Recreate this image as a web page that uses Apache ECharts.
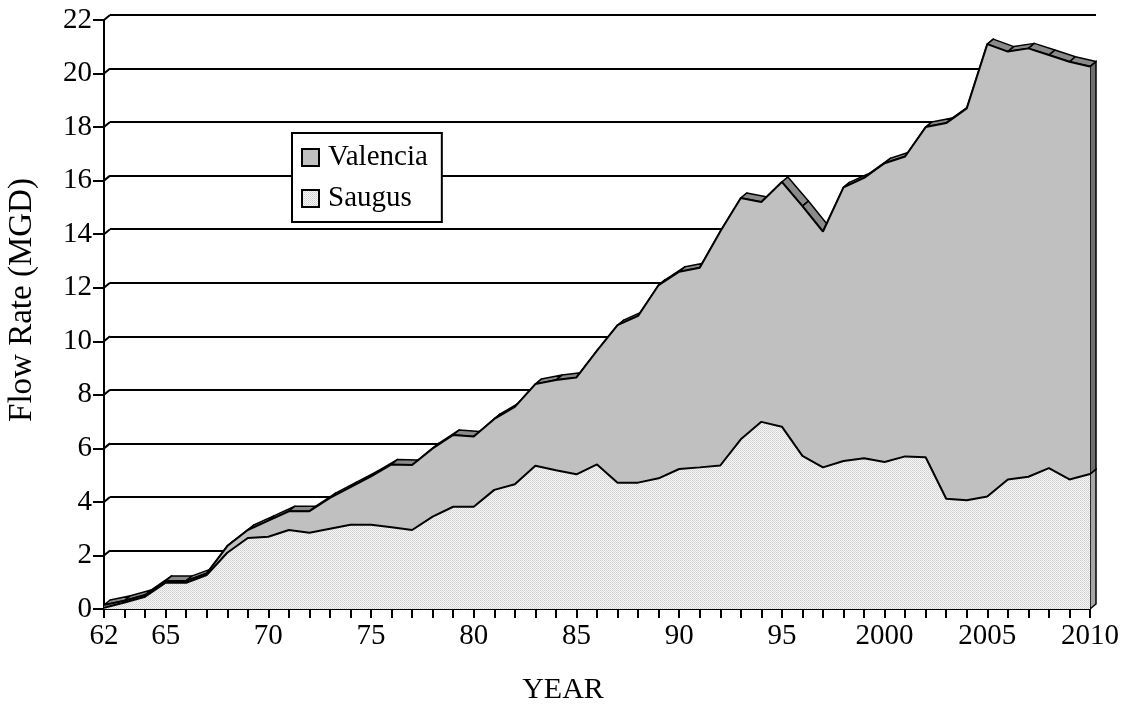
<!DOCTYPE html>
<html>
<head>
<meta charset="utf-8">
<title>Flow Rate</title>
<script src="https://cdn.jsdelivr.net/npm/echarts@6/dist/echarts.min.js"></script>
<style>
  html, body { margin: 0; padding: 0; background: #ffffff; }
  #chart { width: 1126px; height: 712px; }
</style>
</head>
<body>
<div id="chart"></div>
<script>
// Yearly flow, million gallons per day
const years = [1962,1963,1964,1965,1966,1967,1968,1969,1970,1971,1972,1973,1974,1975,1976,1977,1978,1979,1980,
  1981,1982,1983,1984,1985,1986,1987,1988,1989,1990,1991,1992,1993,1994,1995,1996,1997,1998,1999,2000,
  2001,2002,2003,2004,2005,2006,2007,2008,2009,2010];
const tickYears = [1962,1965,1970,1975,1980,1985,1990,1995,2000,2005,2010];
const tickTexts = ['62','65','70','75','80','85','90','95','2000','2005','2010'];
const yTicks = [0,2,4,6,8,10,12,14,16,18,20,22];

const saugus = [0.05,0.24,0.46,0.98,0.98,1.27,2.10,2.65,2.70,2.95,2.85,3.00,3.15,3.15,3.05,2.95,3.45,3.82,3.82,
  4.45,4.66,5.35,5.18,5.03,5.40,4.72,4.72,4.88,5.23,5.29,5.36,6.34,6.99,6.81,5.72,5.29,5.53,5.63,5.49,
  5.70,5.67,4.12,4.06,4.20,4.84,4.94,5.26,4.84,5.04];
const valencia = [0.10,0.07,0.06,0.07,0.07,0.06,0.25,0.30,0.60,0.70,0.80,1.15,1.40,1.80,2.35,2.43,2.55,2.68,2.62,
  2.65,2.89,3.05,3.37,3.62,4.25,5.88,6.23,7.22,7.37,7.46,8.74,9.01,8.21,9.14,9.33,8.81,10.22,10.47,11.16,
  11.20,12.33,14.03,14.64,16.90,15.98,16.00,15.43,15.60,15.22];

// stacked top of the two areas
const totals = saugus.map((s, i) => +(s + valencia[i]).toFixed(2));

// pseudo-3D depth of the plot box, in pixels
const DX = 6, DY = -5;
const FONT = 'Liberation Serif';

// dotted fill for the Saugus area
function dotPattern() {
  const c = document.createElement('canvas');
  c.width = 2; c.height = 2;
  const g = c.getContext('2d');
  g.fillStyle = '#f6f6f6'; g.fillRect(0, 0, 2, 2);
  g.fillStyle = '#cfcfcf'; g.fillRect(0, 0, 1, 1);
  g.fillStyle = '#dadada'; g.fillRect(1, 1, 1, 1);
  return { image: c, repetition: 'repeat' };
}
const saugusFill = dotPattern();
const valenciaFill = '#c0c0c0';

const labelFor = {};
tickYears.forEach((y, i) => { labelFor[y] = tickTexts[i]; });

// top surface strips of the stacked area
function renderTopStrip(params, api) {
  const a = api.coord([api.value(0), api.value(1)]);
  const b = api.coord([api.value(0) + 1, api.value(2)]);
  return {
    type: 'polygon',
    shape: { points: [a, b, [b[0] + DX, b[1] + DY], [a[0] + DX, a[1] + DY]] },
    style: { fill: '#8a8a8a', stroke: '#000', lineWidth: 1.5, lineJoin: 'round' }
  };
}

// right end face of both layers
function renderEndFace(params, api) {
  const i = api.value(0);
  const p0 = api.coord([i, 0]);
  const p1 = api.coord([i, api.value(1)]);
  const p2 = api.coord([i, api.value(2)]);
  const face = (lo, hi, fill) => ({
    type: 'polygon',
    shape: { points: [lo, hi, [hi[0] + DX, hi[1] + DY], [lo[0] + DX, lo[1] + DY]] },
    style: { fill: fill, stroke: '#000', lineWidth: 1.5 }
  });
  return { type: 'group', children: [face(p0, p1, '#a6a6a6'), face(p1, p2, '#6e6e6e')] };
}

// short edges joining the front axis to the back wall grid lines
function renderWallEdge(params, api) {
  const p = api.coord([0, api.value(1)]);
  return {
    type: 'line',
    shape: { x1: p[0], y1: p[1], x2: p[0] + DX, y2: p[1] + DY },
    style: { stroke: '#000', lineWidth: 2 }
  };
}

const chart = echarts.init(document.getElementById('chart'), null, { renderer: 'canvas' });

chart.setOption({
  backgroundColor: '#ffffff',
  animation: false,
  textStyle: { fontFamily: FONT, color: '#000' },
  grid: [
    { left: 104, right: 36, top: 20, bottom: 103, containLabel: false },
    { left: 104 + DX, right: 36 - DX, top: 20 + DY, bottom: 103 - DY, containLabel: false }
  ],
  xAxis: [
    {
      type: 'category', gridIndex: 0, data: years, boundaryGap: false,
      axisLine: { lineStyle: { color: '#000', width: 2 } },
      axisTick: { interval: 0, length: 9, lineStyle: { color: '#000', width: 2 } },
      axisLabel: {
        interval: 0, margin: 13, fontSize: 29, fontFamily: FONT, color: '#000',
        formatter: v => labelFor[v] || ''
      },
      splitLine: { show: false }
    },
    { type: 'value', gridIndex: 1, min: 0, max: 1, show: false }
  ],
  yAxis: [
    {
      type: 'value', gridIndex: 0, min: 0, max: 22, interval: 2,
      axisLine: { show: true, lineStyle: { color: '#000', width: 2 } },
      axisTick: { show: true, length: 11, lineStyle: { color: '#000', width: 2 } },
      axisLabel: { margin: 12, fontSize: 29, fontFamily: FONT, color: '#000' },
      splitLine: { show: false }
    },
    {
      type: 'value', gridIndex: 1, min: 0, max: 22, interval: 2,
      axisLine: { show: false }, axisTick: { show: false }, axisLabel: { show: false },
      splitLine: { show: true, lineStyle: { color: '#000', width: 2 } }
    }
  ],
  legend: {
    left: 292, top: 133, orient: 'vertical',
    backgroundColor: '#ffffff', borderColor: '#000', borderWidth: 2,
    padding: [10, 14, 9, 9], itemGap: 12, itemWidth: 17, itemHeight: 17,
    textStyle: { fontSize: 29, fontFamily: FONT, color: '#000', padding: [0, 0, 0, 4] },
    selectedMode: false,
    data: [
      { name: 'Valencia', icon: 'rect', itemStyle: { color: valenciaFill, borderColor: '#000', borderWidth: 2 } },
      { name: 'Saugus', icon: 'rect', itemStyle: { color: saugusFill, borderColor: '#000', borderWidth: 2 } }
    ]
  },
  graphic: [
    {
      type: 'text', x: 22, y: 300, rotation: Math.PI / 2,
      style: { text: 'Flow Rate (MGD)', font: '33px "Liberation Serif"', fill: '#000', align: 'center', verticalAlign: 'middle' }
    },
    {
      type: 'text', x: 563, y: 690,
      style: { text: 'YEAR', font: '30px "Liberation Serif"', fill: '#000', align: 'center', verticalAlign: 'middle' }
    }
  ],
  series: [
    {
      name: 'topStrip', type: 'custom', xAxisIndex: 0, yAxisIndex: 0, z: 1, clip: false, silent: true,
      renderItem: renderTopStrip,
      data: totals.slice(0, -1).map((t, i) => [i, t, totals[i + 1]])
    },
    {
      name: 'wallEdge', type: 'custom', xAxisIndex: 0, yAxisIndex: 0, z: 1, clip: false, silent: true,
      renderItem: renderWallEdge,
      data: yTicks.map(v => [0, v])
    },
    {
      name: 'endFace', type: 'custom', xAxisIndex: 0, yAxisIndex: 0, z: 1, clip: false, silent: true,
      renderItem: renderEndFace,
      data: [[years.length - 1, saugus[saugus.length - 1], totals[totals.length - 1]]]
    },
    {
      name: 'Saugus', type: 'line', stack: 'flow', xAxisIndex: 0, yAxisIndex: 0, z: 4,
      data: saugus, showSymbol: false, symbol: 'none',
      lineStyle: { color: '#000', width: 2 },
      itemStyle: { color: saugusFill },
      areaStyle: { color: saugusFill, opacity: 1 }
    },
    {
      name: 'Valencia', type: 'line', stack: 'flow', xAxisIndex: 0, yAxisIndex: 0, z: 3,
      data: valencia, showSymbol: false, symbol: 'none',
      lineStyle: { color: '#000', width: 2 },
      itemStyle: { color: valenciaFill },
      areaStyle: { color: valenciaFill, opacity: 1 }
    }
  ]
});
</script>
</body>
</html>
